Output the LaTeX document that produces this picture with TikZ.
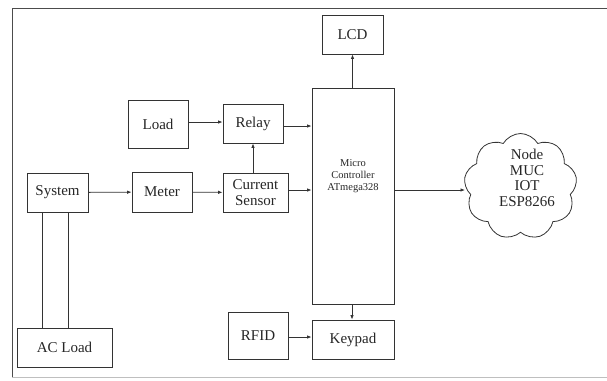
\documentclass[tikz,border=0pt]{standalone}
\usepackage{fontspec}
\setmainfont{Liberation Serif}
\usetikzlibrary{arrows.meta,positioning,calc,shapes.symbols}

\begin{document}
\begin{tikzpicture}[
    x=1bp, y=-1bp,
    >={Latex[length=4.5bp,width=3.5bp]},
    line/.style={draw=black!80, line width=0.8bp},
    block/.style={line, rectangle, inner sep=1bp, align=center,
        font=\fontsize{15bp}{16bp}\selectfont, text=black!85},
    iot/.style={line, cloud, cloud puffs=9, cloud puff arc=120, aspect=1.05,
        inner sep=0pt, align=center, font=\fontsize{15bp}{15.5bp}\selectfont, text=black!85}
]
\useasboundingbox (0,0) rectangle (607,380);
\draw[line, draw=black!70] (607,8) -- (12,8) -- (12,378);
\draw[draw=black!25, line width=1bp] (12,377) -- (607,377);

\node[block, minimum width=61bp, minimum height=39bp] (sys) at (57.5,192.5) {System};
\node[block, minimum width=60bp, minimum height=40bp] (meter) at (162,192) {Meter};
\node[block, minimum width=65bp, minimum height=39bp] (cs) at (255.5,192.5) {Current\\Sensor};
\node[block, minimum width=60bp, minimum height=48bp] (load) at (158,124) {Load};
\node[block, minimum width=60bp, minimum height=39bp] (relay) at (253,123.5) {Relay};
\node[block, minimum width=95bp, minimum height=39bp] (ac) at (64.5,347.5) {AC Load};
\node[block, minimum width=60bp, minimum height=47bp] (rfid) at (258,335.5) {RFID};
\node[block, minimum width=61bp, minimum height=39bp] (lcd) at (352.5,34.5) {LCD};
\node[block, minimum width=82bp, minimum height=216bp] (mc) at (353,196) {};
\node[align=center, font=\fontsize{10.5bp}{12bp}\selectfont, text=black!85] (mctext) at ([yshift=20bp]mc.center) {Micro\\Controller\\ATmega328};
\node[block, minimum width=82bp, minimum height=39bp] (keypad) at (353,339.5) {Keypad};
\node[iot, minimum width=113bp, minimum height=106bp] (cloud) at (520.5,186.5) {};
\node[align=center, font=\fontsize{15bp}{15.5bp}\selectfont, text=black!85] (cloudtext) at (527,178) {Node\\MUC\\IOT\\ESP8266};

\draw[line, ->] (load.east |- 0,122) -- (relay.west |- 0,122);
\draw[line, ->] (relay.east |- 0,126) -- (mc.west |- 0,126);
\draw[line, ->] (sys) -- (meter);
\draw[line, ->] (meter) -- (cs);
\draw[line, ->] (cs.east |- 0,190) -- (mc.west |- 0,190);
\draw[line, ->] (relay.south |- cs.north) -- (relay.south);
\draw[line, ->] (mc.east |- 0,190) -- (cloud.west |- 0,190);
\draw[line, ->] (lcd.south |- mc.north) -- (lcd.south);
\draw[line, ->] (mc.south -| 352,0) -- (keypad.north -| 352,0);
\draw[line, ->] (rfid.east |- 0,337) -- (keypad.west |- 0,337);
\draw[line] (sys.south -| 42,0) -- (ac.north -| 42,0);
\draw[line] (sys.south -| 68,0) -- (ac.north -| 68,0);
\end{tikzpicture}
\end{document}
